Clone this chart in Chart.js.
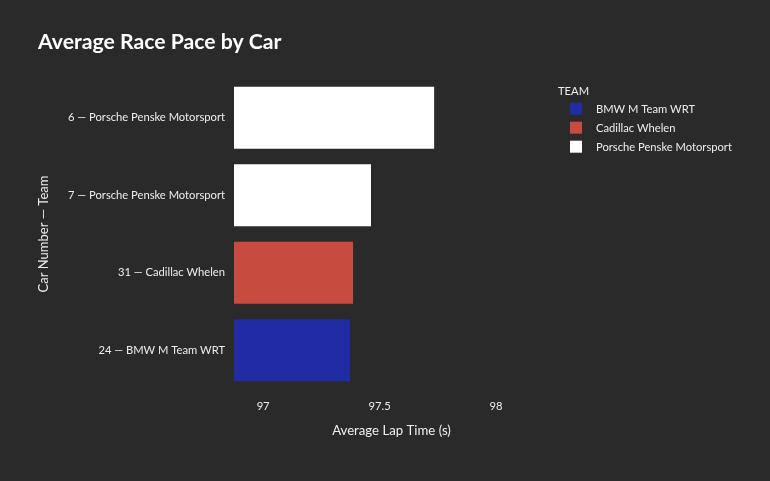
<!DOCTYPE html>
<html>
<head>
<meta charset="utf-8">
<script src="https://cdn.jsdelivr.net/npm/chart.js@4"></script>
<style>
  html, body { margin: 0; padding: 0; background: #2a2a2a; }
  #wrap { width: 770px; height: 481px; }
</style>
</head>
<body>
<div id="wrap"><canvas id="c" width="770" height="481"></canvas></div>
<script>
const chartTitle = 'Average Race Pace by Car';
const categories = ['6 — Porsche Penske Motorsport', '7 — Porsche Penske Motorsport', '31 — Cadillac Whelen', '24 — BMW M Team WRT'];
const carTeams = ['Porsche Penske Motorsport', 'Porsche Penske Motorsport', 'Cadillac Whelen', 'BMW M Team WRT'];
const lapTimes = [97.734, 97.463, 97.386, 97.373];
const legendTeams = ['BMW M Team WRT', 'Cadillac Whelen', 'Porsche Penske Motorsport'];
const teamColors = { 'BMW M Team WRT': '#212ba3', 'Cadillac Whelen': '#c84b3f', 'Porsche Penske Motorsport': '#ffffff' };
const xTicks = [97, 97.5, 98];
const xMin = 96.875, xMax = 98.227;

const FONT = 'Lato, "Noto Sans", sans-serif';
const BG = '#2a2a2a';
const TXT = '#eeeeee';

const overlay = {
  id: 'overlay',
  beforeDraw(chart) {
    const ctx = chart.ctx;
    ctx.save();
    ctx.fillStyle = BG;
    ctx.fillRect(0, 0, chart.width, chart.height);
    ctx.restore();
  },
  afterDraw(chart) {
    const ctx = chart.ctx;
    ctx.save();
    ctx.fillStyle = '#ffffff';
    ctx.font = 'bold 21.2px ' + FONT;
    ctx.textBaseline = 'middle';
    ctx.textAlign = 'left';
    ctx.fillText(chartTitle, 38, 42);
    // legend
    ctx.font = '11.2px ' + FONT;
    ctx.fillStyle = TXT;
    ctx.fillText('TEAM', 558, 91);
    legendTeams.forEach((t, i) => {
      const cy = 108.7 + i * 19;
      ctx.fillStyle = teamColors[t];
      ctx.fillRect(570, cy - 6, 12, 12);
      ctx.fillStyle = TXT;
      ctx.fillText(t, 596, cy + 1);
    });
    ctx.restore();
  }
};

new Chart(document.getElementById('c'), {
  type: 'bar',
  data: {
    labels: categories,
    datasets: [{
      data: lapTimes,
      base: xMin,
      backgroundColor: carTeams.map(t => teamColors[t]),
      borderWidth: 0,
      barPercentage: 0.8,
      categoryPercentage: 1.0
    }]
  },
  options: {
    indexAxis: 'y',
    responsive: false,
    animation: false,
    devicePixelRatio: 1,
    layout: { padding: { top: 79, right: 221, bottom: 0, left: 0 } },
    plugins: { legend: { display: false }, title: { display: false }, tooltip: { enabled: false } },
    scales: {
      x: {
        type: 'linear',
        min: xMin, max: xMax,
        grid: { display: false, drawTicks: false },
        border: { display: false },
        afterBuildTicks: (s) => { s.ticks = xTicks.map(v => ({ value: v })); },
        afterFit: (s) => { s.height = 92; },
        ticks: { color: TXT, font: { family: FONT, size: 11.2 }, padding: 11, callback: (v) => String(v) },
        title: { display: true, text: 'Average Lap Time (s)', color: TXT, font: { family: FONT, size: 13.2 }, padding: { top: 0, bottom: 42 } }
      },
      y: {
        grid: { display: false, drawTicks: false },
        border: { display: false },
        afterFit: (s) => { s.width = 234; },
        ticks: { color: TXT, font: { family: FONT, size: 11.2 }, padding: 9 },
        title: { display: true, text: 'Car Number — Team', color: TXT, font: { family: FONT, size: 13 }, padding: { top: 36, bottom: 0 } }
      }
    }
  },
  plugins: [overlay]
});
</script>
</body>
</html>
